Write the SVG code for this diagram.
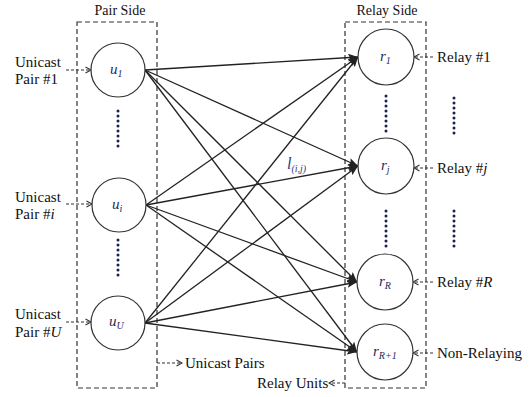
<svg xmlns="http://www.w3.org/2000/svg" width="530" height="397" viewBox="0 0 530 397">
<defs>
<style>
.box{fill:none;stroke:#333;stroke-width:1.2;stroke-dasharray:5,3}
.node{fill:#fff;stroke:#333;stroke-width:1.2}
.edge{stroke:#222;stroke-width:1.3;fill:none;marker-end:url(#ah)}
.dash{stroke:#333;stroke-width:1.1;fill:none;stroke-dasharray:3,2;marker-end:url(#oh)}
text{font-family:'Liberation Serif','Times New Roman',Tinos,'DejaVu Serif',serif}
.t{font-size:15px;fill:#111}
.h{font-size:14px;fill:#111;text-anchor:middle}
.nl{font-size:15px;font-style:italic;fill:#1f2a5a}
.sub{font-size:10px}
.dot{fill:#1a2050}
</style>
<marker id="ah" markerUnits="userSpaceOnUse" markerWidth="11" markerHeight="8" refX="10" refY="4" orient="auto">
<path d="M0,0 L10,4 L0,8 L2,4 z" fill="#222"/>
</marker>
<marker id="oh" markerUnits="userSpaceOnUse" markerWidth="8" markerHeight="8" refX="6.5" refY="4" orient="auto">
<path d="M1,1 L6.5,4 L1,7" fill="none" stroke="#333" stroke-width="1.1"/>
</marker>
</defs>
<rect width="530" height="397" fill="#fff"/>

<g id="pair-side">
<rect class="box" x="77" y="22" width="80" height="366"/>
<text class="h" x="120" y="15">Pair Side</text>
</g>
<g id="relay-side">
<rect class="box" x="345" y="22" width="81" height="366"/>
<text class="h" x="387" y="15">Relay Side</text>
</g>

<g id="connectors">
<line class="edge" x1="145" y1="70" x2="358" y2="57"/>
<line class="edge" x1="145" y1="70" x2="358" y2="166"/>
<line class="edge" x1="145" y1="70" x2="357" y2="282"/>
<line class="edge" x1="145" y1="70" x2="357" y2="352"/>
<line class="edge" x1="146" y1="205" x2="358" y2="57"/>
<line class="edge" x1="146" y1="205" x2="358" y2="166"/>
<line class="edge" x1="146" y1="205" x2="357" y2="282"/>
<line class="edge" x1="146" y1="205" x2="357" y2="352"/>
<line class="edge" x1="145" y1="323" x2="358" y2="57"/>
<line class="edge" x1="145" y1="323" x2="358" y2="166"/>
<line class="edge" x1="145" y1="323" x2="357" y2="282"/>
<line class="edge" x1="145" y1="323" x2="357" y2="352"/>
<line class="dash" x1="66" y1="70" x2="91" y2="70"/>
<line class="dash" x1="66" y1="204" x2="92" y2="204"/>
<line class="dash" x1="66" y1="322" x2="91" y2="322"/>
<line class="dash" x1="433" y1="57" x2="414" y2="57"/>
<line class="dash" x1="433" y1="168" x2="414" y2="168"/>
<line class="dash" x1="433" y1="282" x2="413" y2="282"/>
<line class="dash" x1="433" y1="353" x2="413" y2="353"/>
<line class="dash" x1="157" y1="363" x2="182" y2="363"/>
<line class="dash" x1="345" y1="383" x2="329" y2="383"/>
</g>

<g id="u1">
<circle class="node" cx="118" cy="70" r="27"/>
<text class="nl" x="110" y="74">u<tspan class="sub" dy="3">1</tspan></text>
</g>
<g id="ui">
<circle class="node" cx="119" cy="205" r="27"/>
<text class="nl" x="112" y="209">u<tspan class="sub" dy="3">i</tspan></text>
</g>
<g id="uU">
<circle class="node" cx="118" cy="323" r="27"/>
<text class="nl" x="109" y="326">u<tspan class="sub" dy="3">U</tspan></text>
</g>
<g id="r1">
<circle class="node" cx="386" cy="57" r="28"/>
<text class="nl" x="380" y="61">r<tspan class="sub" dy="3">1</tspan></text>
</g>
<g id="rj">
<circle class="node" cx="386" cy="166" r="28"/>
<text class="nl" x="381" y="170">r<tspan class="sub" dy="3">j</tspan></text>
</g>
<g id="rR">
<circle class="node" cx="385" cy="282" r="28"/>
<text class="nl" x="379" y="286">r<tspan class="sub" dy="3">R</tspan></text>
</g>
<g id="rR1">
<circle class="node" cx="385" cy="352" r="28"/>
<text class="nl" x="373" y="356">r<tspan class="sub" dy="3">R+1</tspan></text>
</g>

<g id="dots">
<g class="dot">
<circle cx="118" cy="111" r="1.5"/><circle cx="118" cy="116" r="1.5"/><circle cx="118" cy="121" r="1.5"/><circle cx="118" cy="126" r="1.5"/><circle cx="118" cy="131" r="1.5"/><circle cx="118" cy="136" r="1.5"/><circle cx="118" cy="141" r="1.5"/><circle cx="118" cy="146" r="1.5"/>
<circle cx="118" cy="240" r="1.5"/><circle cx="118" cy="245" r="1.5"/><circle cx="118" cy="250" r="1.5"/><circle cx="118" cy="255" r="1.5"/><circle cx="118" cy="260" r="1.5"/><circle cx="118" cy="265" r="1.5"/><circle cx="118" cy="270" r="1.5"/><circle cx="118" cy="275" r="1.5"/>
<circle cx="386" cy="96" r="1.5"/><circle cx="386" cy="101" r="1.5"/><circle cx="386" cy="106" r="1.5"/><circle cx="386" cy="111" r="1.5"/><circle cx="386" cy="116" r="1.5"/><circle cx="386" cy="121" r="1.5"/><circle cx="386" cy="126" r="1.5"/><circle cx="386" cy="131" r="1.5"/>
<circle cx="386" cy="211" r="1.5"/><circle cx="386" cy="216" r="1.5"/><circle cx="386" cy="221" r="1.5"/><circle cx="386" cy="226" r="1.5"/><circle cx="386" cy="231" r="1.5"/><circle cx="386" cy="236" r="1.5"/><circle cx="386" cy="241" r="1.5"/><circle cx="386" cy="246" r="1.5"/>
<circle cx="454" cy="98" r="1.5"/><circle cx="454" cy="103" r="1.5"/><circle cx="454" cy="108" r="1.5"/><circle cx="454" cy="113" r="1.5"/><circle cx="454" cy="118" r="1.5"/><circle cx="454" cy="123" r="1.5"/><circle cx="454" cy="128" r="1.5"/><circle cx="454" cy="133" r="1.5"/>
<circle cx="454" cy="211" r="1.5"/><circle cx="454" cy="216" r="1.5"/><circle cx="454" cy="221" r="1.5"/><circle cx="454" cy="226" r="1.5"/><circle cx="454" cy="231" r="1.5"/><circle cx="454" cy="236" r="1.5"/><circle cx="454" cy="241" r="1.5"/><circle cx="454" cy="246" r="1.5"/>
</g>
</g>

<g id="labels">
<text class="t" x="15" y="67">Unicast</text>
<text class="t" x="15" y="84">Pair #1</text>
<text class="t" x="15" y="202">Unicast</text>
<text class="t" x="15" y="219">Pair #<tspan font-style="italic">i</tspan></text>
<text class="t" x="15" y="319">Unicast</text>
<text class="t" x="15" y="337">Pair #<tspan font-style="italic">U</tspan></text>
<text class="t" x="437" y="62">Relay #1</text>
<text class="t" x="437" y="173">Relay #<tspan font-style="italic">j</tspan></text>
<text class="t" x="437" y="287">Relay #<tspan font-style="italic">R</tspan></text>
<text class="t" x="437" y="358">Non-Relaying</text>
<text class="t" x="185" y="368">Unicast Pairs</text>
<text class="t" x="257" y="388">Relay Units</text>
<text x="287" y="169" font-size="16" font-style="italic" fill="#2a3a8a">l<tspan font-size="10" dy="3">(i,j)</tspan></text>
</g>
</svg>
